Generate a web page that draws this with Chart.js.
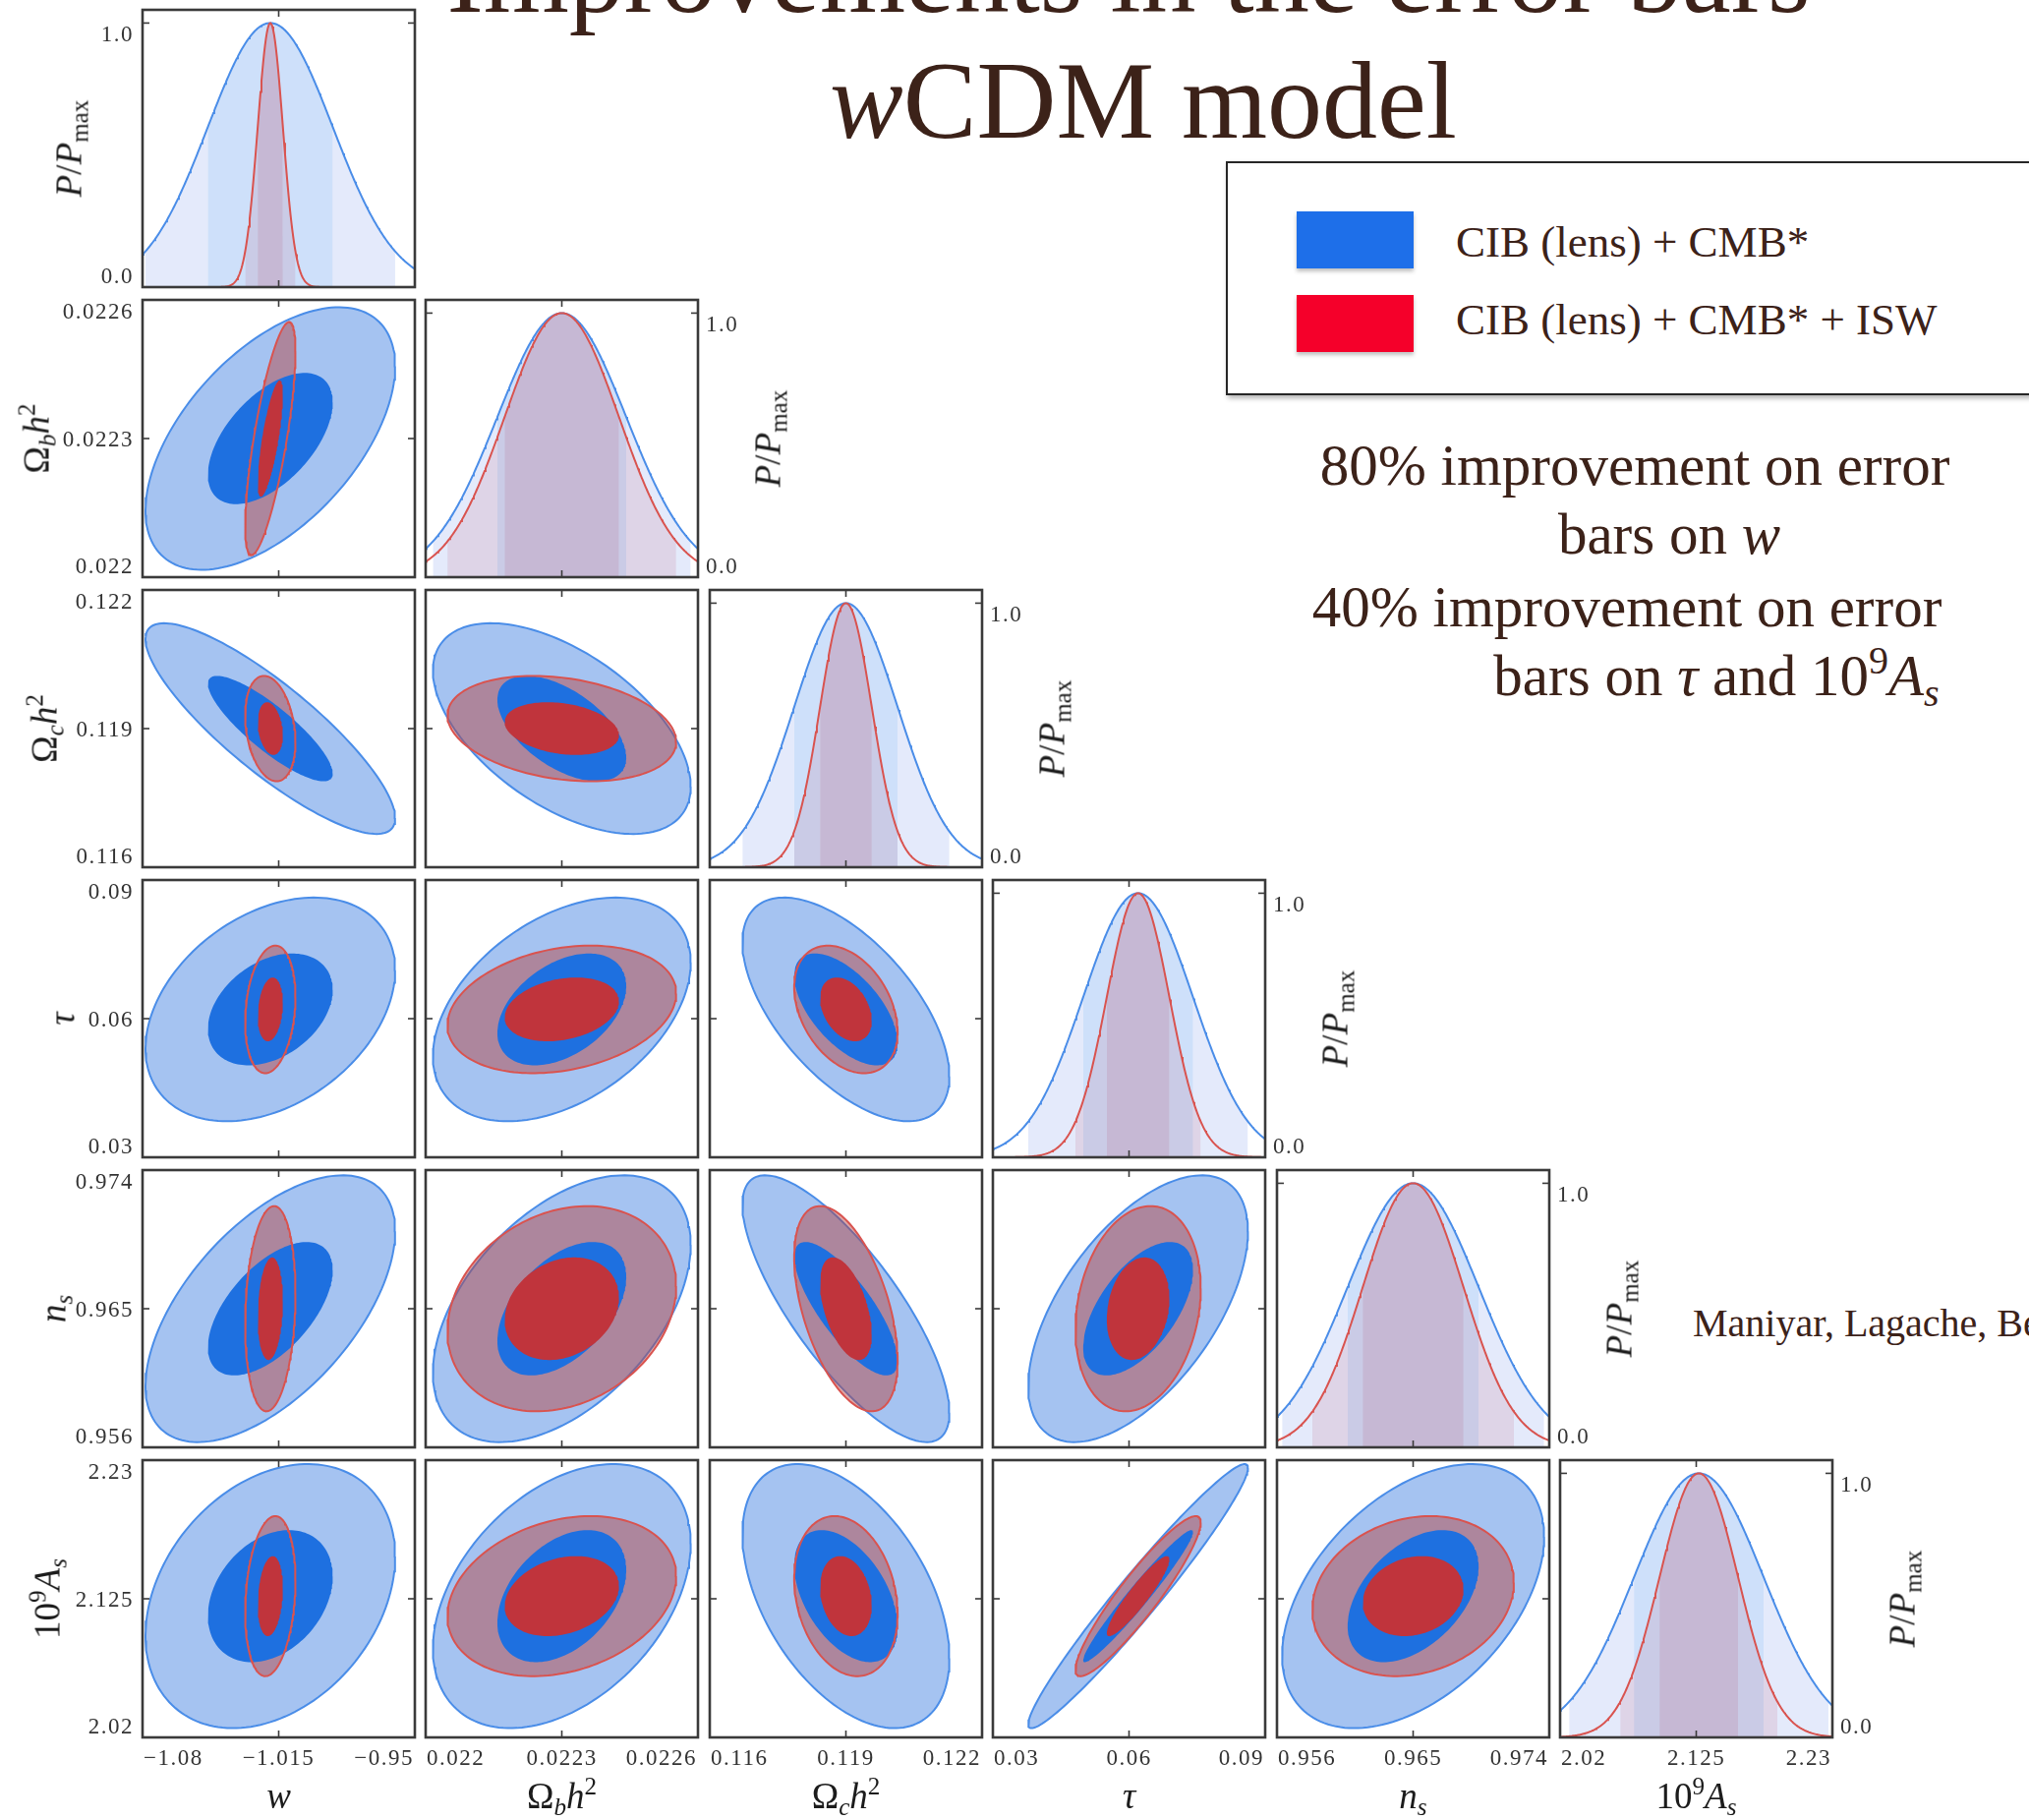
<!DOCTYPE html>
<html lang="en">
<head>
<meta charset="utf-8">
<title>wCDM model</title>
<script src="https://cdn.jsdelivr.net/npm/chart.js@4.4.1/dist/chart.umd.min.js"></script>
<style>
  html, body { margin: 0; padding: 0; background: #fff; }
  #page { position: relative; width: 2064px; height: 1851px; overflow: hidden;
          font-family: "Liberation Serif", "Times New Roman", serif; }
  #page canvas { position: absolute; }
  .txt { position: absolute; white-space: nowrap; line-height: 1; }
  .title { color: #3c2219; font-size: 112px; transform: translateX(-50%); }
  .note { color: #3c2219; font-size: 59px; transform: translateX(-50%); }
  .credit { color: #3c2219; font-size: 40px; }
  .axt { color: #1c1c1c; font-size: 37px; transform: translate(-50%, -50%); }
  .axt.rot { transform: translate(-50%, -50%) rotate(-90deg); }
  sub, sup { font-size: 0.68em; line-height: 0; }
  sub { vertical-align: -0.28em; }
  sup { vertical-align: 0.55em; }
  #legend { position: absolute; left: 1247px; top: 164px; width: 900px; height: 234px;
            border: 2px solid #262626; box-shadow: 2px 3px 5px rgba(0,0,0,0.3); background: #fff; }
  .swatch { position: absolute; width: 119px; height: 58px; box-shadow: 0 3px 4px rgba(0,0,0,0.25); }
  .legtext { position: absolute; color: #3c2219; font-size: 45px; white-space: nowrap; line-height: 1; }
</style>
</head>
<body>
<div id="page">
  <div class="txt title" style="left:1148px; top:-82px;">Improvements in the error bars</div>
  <div class="txt title" style="left:1163px; top:46px;"><i>w</i>CDM model</div>

  <div id="legend"></div>
  <div class="swatch" style="left:1319px; top:215px; background:#1e6fe9;"></div>
  <div class="swatch" style="left:1319px; top:300px; background:#f5002a;"></div>
  <div class="legtext" style="left:1481px; top:224px;">CIB (lens) + CMB*</div>
  <div class="legtext" style="left:1481px; top:303px;">CIB (lens) + CMB* + ISW</div>

  <div class="txt note" style="left:1663px; top:444px;">80% improvement on error</div>
  <div class="txt note" style="left:1698px; top:514px;">bars on <i>w</i></div>
  <div class="txt note" style="left:1655px; top:588px;">40% improvement on error</div>
  <div class="txt note" style="left:1746px; top:658px;">bars on <i>τ</i> and 10<sup>9</sup><i>A</i><sub><i>s</i></sub></div>

  <div class="txt credit" style="left:1722px; top:1326px;">Maniyar, Lagache, Béthermin, Ilić</div>
</div>

<script>
// tick values for each parameter axis: low / centre / high
const axisLow  = [-1.08, 0.022, 0.116, 0.03, 0.956, 2.02];
const axisMid  = [-1.015, 0.0223, 0.119, 0.06, 0.965, 2.125];
const axisHigh = [-0.95, 0.0226, 0.122, 0.09, 0.974, 2.23];
const tickText = [
  ['−1.08', '−1.015', '−0.95'],
  ['0.022', '0.0223', '0.0226'],
  ['0.116', '0.119', '0.122'],
  ['0.03', '0.06', '0.09'],
  ['0.956', '0.965', '0.974'],
  ['2.02', '2.125', '2.23']
];
const probTickText = ['0.0', '1.0'];
const probMax = 1.05;

// axis titles
const paramTitle = [
  '<i>w</i>',
  'Ω<sub><i>b</i></sub><i>h</i><sup>2</sup>',
  'Ω<sub><i>c</i></sub><i>h</i><sup>2</sup>',
  '<i>τ</i>',
  '<i>n</i><sub><i>s</i></sub>',
  '10<sup>9</sup><i>A</i><sub><i>s</i></sub>'
];
const probTitle = '<i>P</i>/<i>P</i><sub>max</sub>';

// posterior centres, shared by both runs
const means = [-1.019, 0.02230, 0.1190, 0.0620, 0.9650, 2.127];

// 1-sigma errors: CIB (lens) + CMB*  and  CIB (lens) + CMB* + ISW
const sigmaCmb = [0.0298, 0.000142, 0.00114, 0.0121, 0.00433, 0.0500];
const sigmaIsw = [0.0060, 0.000126, 0.000570, 0.0069, 0.00333, 0.0303];

// correlation coefficients, lower triangle [row][col]
const rhoCmb = [
  [],
  [0.55],
  [-0.85, -0.55],
  [0.35, 0.42, -0.60],
  [0.58, 0.48, -0.78, 0.58],
  [0.30, 0.40, -0.47, 0.97, 0.45]
];
const rhoIsw = [
  [],
  [0.75],
  [-0.25, -0.25],
  [0.20, 0.25, -0.35],
  [0.15, 0.22, -0.50, 0.20],
  [0.20, 0.25, -0.22, 0.92, 0.17]
];

// colours
const BLUE_LINE = '#4a8de8';
const BLUE_LIGHT = '#a5c3f1';
const BLUE_DARK = '#1e70e0';
const RED_LINE = '#d9534f';
const RED_SHADE = 'rgba(185,60,55,0.45)';
const RED_DARK = '#c0343c';
const BLUE_BAND2 = 'rgba(120,150,235,0.2)';
const BLUE_BAND1 = 'rgba(90,165,240,0.16)';
const RED_BAND = 'rgba(170,50,80,0.12)';
const FRAME = '#3a3a3a';
const TICK_COLOR = '#333333';
const NONE = 'rgba(0,0,0,0)';

// panel grid
const PANEL_W = 277, PANEL_H = 282;
const PAD = {left: 130, right: 110, top: 12, bottom: 48};
const colLeft = c => 145 + Math.round(288.4 * c);
const rowTop = r => 10 + 295 * r;

function gaussCurve(mean, sigma, lo, hi, n) {
  const pts = [];
  for (let i = 0; i <= n; i++) {
    const v = lo + (hi - lo) * i / n;
    pts.push({x: v, y: Math.exp(-0.5 * ((v - mean) / sigma) ** 2)});
  }
  return pts;
}

function band(p, sigma, k) {
  const lo = Math.max(axisLow[p], means[p] - k * sigma[p]);
  const hi = Math.min(axisHigh[p], means[p] + k * sigma[p]);
  return gaussCurve(means[p], sigma[p], lo, hi, 120);
}

function ellipse(px, py, sigma, rho, k) {
  const pts = [];
  const n = 160;
  const s = Math.sqrt(1 - rho * rho);
  for (let i = 0; i <= n; i++) {
    const t = 2 * Math.PI * i / n;
    pts.push({
      x: means[px] + k * sigma[px] * Math.cos(t),
      y: means[py] + k * sigma[py] * (rho * Math.cos(t) + s * Math.sin(t))
    });
  }
  return pts;
}

function diagonalDatasets(p) {
  return [
    {data: band(p, sigmaCmb, 2), fill: 'origin', backgroundColor: BLUE_BAND2, borderColor: NONE, borderWidth: 0, order: 6},
    {data: band(p, sigmaCmb, 1), fill: 'origin', backgroundColor: BLUE_BAND1, borderColor: NONE, borderWidth: 0, order: 5},
    {data: band(p, sigmaIsw, 2), fill: 'origin', backgroundColor: RED_BAND, borderColor: NONE, borderWidth: 0, order: 4},
    {data: band(p, sigmaIsw, 1), fill: 'origin', backgroundColor: RED_BAND, borderColor: NONE, borderWidth: 0, order: 3},
    {data: gaussCurve(means[p], sigmaCmb[p], axisLow[p], axisHigh[p], 300), fill: false, borderColor: BLUE_LINE, borderWidth: 2, order: 2},
    {data: gaussCurve(means[p], sigmaIsw[p], axisLow[p], axisHigh[p], 300), fill: false, borderColor: RED_LINE, borderWidth: 2, order: 1}
  ];
}

function contourDatasets(cx, ry) {
  const rb = rhoCmb[ry][cx], rr = rhoIsw[ry][cx];
  return [
    {data: ellipse(cx, ry, sigmaCmb, rb, 2), fill: 'shape', backgroundColor: BLUE_LIGHT, borderColor: BLUE_LINE, borderWidth: 2, order: 5},
    {data: ellipse(cx, ry, sigmaIsw, rr, 2), fill: 'shape', backgroundColor: RED_SHADE, borderColor: NONE, borderWidth: 0, order: 4},
    {data: ellipse(cx, ry, sigmaCmb, rb, 1), fill: 'shape', backgroundColor: BLUE_DARK, borderColor: NONE, borderWidth: 0, order: 3},
    {data: ellipse(cx, ry, sigmaIsw, rr, 1), fill: 'shape', backgroundColor: RED_DARK, borderColor: NONE, borderWidth: 0, order: 2},
    {data: ellipse(cx, ry, sigmaIsw, rr, 2), fill: false, borderColor: RED_LINE, borderWidth: 2, order: 1}
  ];
}

// frame, inward centre ticks and tick labels for one panel
const panelFrame = {
  id: 'panelFrame',
  afterDatasetsDraw(chart, args, opts) {
    const {ctx, chartArea: a} = chart;
    const xs = chart.scales.x, ys = chart.scales.y;
    const {row, col} = opts;
    const diag = row === col;
    const seg = (x1, y1, x2, y2) => { ctx.beginPath(); ctx.moveTo(x1, y1); ctx.lineTo(x2, y2); ctx.stroke(); };

    ctx.save();
    ctx.strokeStyle = FRAME;
    ctx.lineWidth = 1.6;
    const xm = xs.getPixelForValue(axisMid[col]);
    const ym = ys.getPixelForValue(diag ? 1 : axisMid[row]);
    seg(xm, a.bottom, xm, a.bottom - 7);
    seg(xm, a.top, xm, a.top + 7);
    seg(a.left, ym, a.left + 7, ym);
    seg(a.right, ym, a.right - 7, ym);

    ctx.lineWidth = 2.6;
    ctx.strokeRect(a.left, a.top, a.right - a.left, a.bottom - a.top);

    ctx.fillStyle = TICK_COLOR;
    ctx.font = '23px "Liberation Serif", serif';
    ctx.letterSpacing = '1.5px';
    ctx.textBaseline = 'alphabetic';

    if (row === 5) {
      const vals = [axisLow[col], axisMid[col], axisHigh[col]];
      const aligns = ['left', 'center', 'right'];
      vals.forEach((v, i) => {
        ctx.textAlign = aligns[i];
        const px = xs.getPixelForValue(v) + (i === 0 ? 1 : i === 2 ? -1 : 0);
        ctx.fillText(tickText[col][i], px, a.bottom + 28);
      });
    }

    if (!diag && col === 0) {
      const vals = [axisLow[row], axisMid[row], axisHigh[row]];
      const shift = [-4, 8, 19];
      ctx.textAlign = 'right';
      vals.forEach((v, i) => {
        ctx.fillText(tickText[row][i], a.left - 9, ys.getPixelForValue(v) + shift[i]);
      });
    }

    if (diag) {
      const left = row === 0;
      ctx.textAlign = left ? 'right' : 'left';
      const tx = left ? a.left - 9 : a.right + 8;
      ctx.fillText(probTickText[0], tx, ys.getPixelForValue(0) - 4);
      ctx.fillText(probTickText[1], tx, ys.getPixelForValue(1) + 19);
    }
    ctx.restore();
  }
};

const page = document.getElementById('page');

function addTitle(html, cx, cy, rotated) {
  const el = document.createElement('div');
  el.className = 'txt axt' + (rotated ? ' rot' : '');
  el.style.left = cx + 'px';
  el.style.top = cy + 'px';
  el.innerHTML = html;
  page.appendChild(el);
}

for (let r = 0; r < 6; r++) {
  for (let c = 0; c <= r; c++) {
    const L = colLeft(c), T = rowTop(r);
    const canvas = document.createElement('canvas');
    canvas.width = PANEL_W + PAD.left + PAD.right;
    canvas.height = PANEL_H + PAD.top + PAD.bottom;
    canvas.style.left = (L - PAD.left) + 'px';
    canvas.style.top = (T - PAD.top) + 'px';
    page.appendChild(canvas);

    const diag = r === c;
    new Chart(canvas, {
      type: 'line',
      data: {datasets: diag ? diagonalDatasets(c) : contourDatasets(c, r)},
      options: {
        responsive: false,
        animation: false,
        devicePixelRatio: 1,
        events: [],
        layout: {padding: {left: PAD.left, right: PAD.right, top: PAD.top, bottom: PAD.bottom}},
        elements: {point: {radius: 0}, line: {tension: 0}},
        scales: {
          x: {type: 'linear', display: false, min: axisLow[c], max: axisHigh[c]},
          y: {type: 'linear', display: false, min: diag ? 0 : axisLow[r], max: diag ? probMax : axisHigh[r]}
        },
        plugins: {
          legend: {display: false},
          tooltip: {enabled: false},
          panelFrame: {row: r, col: c}
        }
      },
      plugins: [panelFrame]
    });
  }
}

// axis titles: bottom row, left column, and P/Pmax beside each 1D panel
const leftTitleX = [70, 37, 45, 63, 54, 48];
for (let c = 0; c < 6; c++) {
  addTitle(paramTitle[c], colLeft(c) + PANEL_W / 2, 1826, false);
}
addTitle(probTitle, leftTitleX[0], rowTop(0) + PANEL_H / 2, true);
for (let r = 1; r < 6; r++) {
  addTitle(paramTitle[r], leftTitleX[r], rowTop(r) + PANEL_H / 2, true);
  addTitle(probTitle, colLeft(r) + PANEL_W + 71, rowTop(r) + PANEL_H / 2, true);
}
</script>
</body>
</html>
